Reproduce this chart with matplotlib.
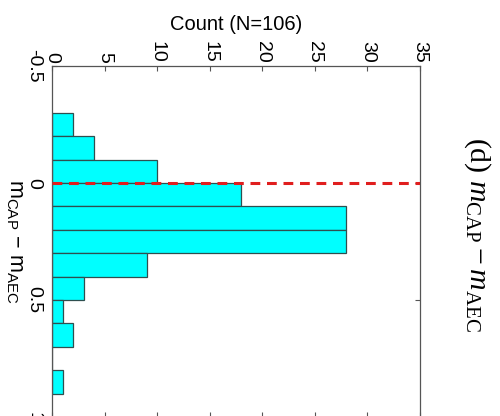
import numpy as np
import matplotlib
matplotlib.use("Agg")
import matplotlib.pyplot as plt

# histogram of m_CAP - m_AEC (bin width 0.1)
bin_centers = [-0.25, -0.15, -0.05, 0.05, 0.15, 0.25, 0.35, 0.45, 0.55, 0.65, 0.75, 0.85]
counts = [2, 4, 10, 18, 28, 28, 9, 3, 1, 2, 0, 1]
bin_width = 0.1

count_ticks = [0, 5, 10, 15, 20, 25, 30, 35]
diff_ticks = [-0.5, 0, 0.5, 1]
diff_tick_labels = ["-0.5", "0", "0.5", "1"]

plt.rcParams["font.family"] = ["Liberation Sans", "DejaVu Sans"]
plt.rcParams["mathtext.default"] = "regular"
plt.rcParams["mathtext.fontset"] = "custom"
plt.rcParams["mathtext.it"] = "Liberation Serif:italic"
plt.rcParams["axes.unicode_minus"] = False

fig = plt.figure(figsize=(5.0, 4.16), dpi=100)
ax = fig.add_axes([52 / 500, -1 / 416, 368 / 500, 351 / 416])

ax.barh(bin_centers, counts, height=bin_width, color="#00ffff",
        edgecolor="#2f4f4f", linewidth=0.9, zorder=2)
ax.plot([0, 35], [0, 0], color="#e01e1e", linestyle=(0, (3.2, 2.2)), linewidth=2.2, zorder=3)

ax.set_xlim(0, 35)
ax.set_ylim(1.0, -0.5)

ax.set_xticks(count_ticks)
ax.set_xticklabels([str(t) for t in count_ticks], rotation=-90)
ax.set_yticks(diff_ticks)
ax.set_yticklabels(diff_tick_labels, rotation=-90, va="center")

ax.tick_params(axis="x", which="both", direction="in", top=True, bottom=True,
               labeltop=True, labelbottom=False, length=3.5, width=0.8,
               color="#555555", labelsize=14, pad=2)
ax.tick_params(axis="y", which="both", direction="in", left=True, right=True,
               labelleft=True, labelright=False, length=3.5, width=0.8,
               color="#555555", labelsize=14, pad=7)

for sp in ax.spines.values():
    sp.set_color("#555555")
    sp.set_linewidth(0.9)

fig.text(236 / 500, 1 - 25 / 416, "Count (N=106)", ha="center", va="center", fontsize=14.5)
fig.text(14 / 500, 1 - 241 / 416, r"$m_{CAP}$ $-$ $m_{AEC}$", rotation=-90,
         ha="center", va="center", fontsize=15.5)
fig.text(477 / 500, 1 - 234 / 416, r"(d) $\mathit{m}_{CAP} - \mathit{m}_{AEC}$", rotation=-90,
         ha="center", va="center", fontsize=21.5, family="Liberation Serif")

fig.savefig("out.png", dpi=100)
